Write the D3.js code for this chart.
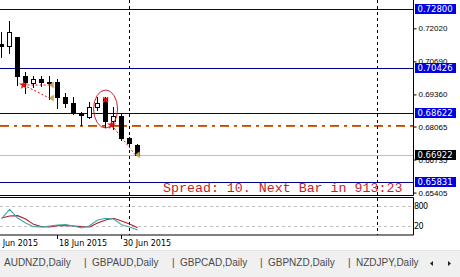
<!DOCTYPE html>
<html>
<head>
<meta charset="utf-8">
<script src="https://cdn.jsdelivr.net/npm/d3@7"></script>
<style>
  body { margin: 0; background: #fff; }
  svg { display: block; }
</style>
</head>
<body>
<div id="chart"></div>
<script>
// daily bars, 9 Jun .. 2 Jul 2015
var dates = ["9 Jun", "10 Jun", "11 Jun", "12 Jun", "15 Jun", "16 Jun", "17 Jun", "18 Jun", "19 Jun",
             "22 Jun", "23 Jun", "24 Jun", "25 Jun", "26 Jun", "29 Jun", "30 Jun", "1 Jul", "2 Jul"];
var open  = [0.71410, 0.71309, 0.71660, 0.70101, 0.69806, 0.69980, 0.69879, 0.69871, 0.69242,
             0.69025, 0.68598, 0.68437, 0.68840, 0.69162, 0.68288, 0.68489, 0.67591, 0.67321];
var high  = [0.71885, 0.72317, 0.71692, 0.70274, 0.70101, 0.70101, 0.70101, 0.69980, 0.69404,
             0.69242, 0.68650, 0.69065, 0.69267, 0.69254, 0.68852, 0.68570, 0.67643, 0.67361];
var low   = [0.70878, 0.71015, 0.69738, 0.69404, 0.69669, 0.69698, 0.69174, 0.68831, 0.68864,
             0.68590, 0.68126, 0.68396, 0.68731, 0.68058, 0.67965, 0.67522, 0.67321, 0.66900];
var close = [0.71329, 0.71885, 0.70101, 0.69871, 0.69968, 0.69847, 0.69859, 0.69254, 0.69025,
             0.68622, 0.68529, 0.68864, 0.69025, 0.68300, 0.68489, 0.67591, 0.67389, 0.66930];

// stochastic %K / %D
var stochMain   = [42, 70, 44, 29, 18, 17, 20, 23, 24, 20, 14, 21, 38, 43, 41, 24, 17, 8];
var stochSignal = [44, 50, 51, 41, 25, 18, 17, 21, 21, 20, 18, 17, 29, 38, 43, 35, 26, 15];
var stochLevels = [80, 20];

var priceLines = [0.72800, 0.70426, 0.68622, 0.65831];
var bidPrice = 0.66922;
var dashLevel = 0.68065;
var priceTicks = [0.72020, 0.70690, 0.69360, 0.68065, 0.66735, 0.65405];

var timeLabels = ["8 Jun 2015", "18 Jun 2015", "30 Jun 2015"];
var timeLabelBars = [-1, 7, 15];
var separatorBars = [16, 47];

// trade history: sell arrows, close arrows, links
var sellBars   = [2.75, 13.75];
var sellPrices = [0.69738, 0.68126];
var exitBars   = [5.96, 5.96, 16.7];
var exitPrices = [0.69738, 0.69214, 0.66930];
var tradeLinks = [[0, 0], [0, 1], [1, 2]];
var crossBar = 13, crossPrice = 0.69140;
var ellipseBars = [11.5, 14.5], ellipsePrices = [0.69537, 0.68006];

var spreadText = "Spread: 10. Next Bar in 913:23";
var tabs = ["AUDNZD,Daily", "GBPAUD,Daily", "GBPCAD,Daily", "GBPNZD,Daily", "NZDJPY,Daily"];

var W = 460, H = 277;
var plotRight = 413, mainBottom = 195.5, subTop = 197.5, subBottom = 235;

var svg = d3.select("#chart").append("svg")
    .attr("width", W).attr("height", H)
    .style("font-family", "'DejaVu Sans', sans-serif");

svg.append("rect").attr("width", W).attr("height", H).attr("fill", "#fff");

var x = d3.scaleLinear().domain([0, 17]).range([1.6, 137.6]);
var y = d3.scaleLinear().domain([0.65831, 0.72800]).range([182, 9]);
var ys = d3.scaleLinear().domain([20, 80]).range([226, 206]);

var px = function(i) { return Math.floor(x(i)) + 0.5; };
var py = function(p) { return Math.round(y(p)) + 0.5; };

svg.append("clipPath").attr("id", "mainClip")
  .append("rect").attr("x", 0).attr("y", 0).attr("width", plotRight).attr("height", mainBottom);
svg.append("clipPath").attr("id", "subClip")
  .append("rect").attr("x", 0).attr("y", subTop).attr("width", plotRight).attr("height", subBottom - subTop);

var main = svg.append("g").attr("clip-path", "url(#mainClip)");

// level lines
main.selectAll(".lvl").data(priceLines).enter().append("line")
    .attr("x1", 0).attr("x2", plotRight)
    .attr("y1", py).attr("y2", py)
    .attr("stroke", "#00008b").attr("stroke-width", 1);

main.append("line")
    .attr("x1", 0).attr("x2", plotRight)
    .attr("y1", py(bidPrice)).attr("y2", py(bidPrice))
    .attr("stroke", "#c0c0c0");

[["#2e8b2e", -2], ["#d2691e", -1]].forEach(function(s) {
  main.append("line")
      .attr("x1", 0).attr("x2", plotRight)
      .attr("y1", py(dashLevel) + s[1]).attr("y2", py(dashLevel) + s[1])
      .attr("stroke", s[0]).attr("stroke-dasharray", "9,5,3,5")
      .attr("shape-rendering", "crispEdges");
});

// period separators (both panels)
svg.selectAll(".sep").data(separatorBars).enter().append("line")
    .attr("x1", px).attr("x2", px)
    .attr("y1", 0).attr("y2", subBottom)
    .attr("stroke", "#000").attr("stroke-dasharray", "3,3");

// trade links (behind candles)
main.selectAll(".link").data(tradeLinks).enter().append("line")
    .attr("x1", function(d) { return x(sellBars[d[0]]); })
    .attr("y1", function(d) { return y(sellPrices[d[0]]); })
    .attr("x2", function(d) { return x(exitBars[d[1]]); })
    .attr("y2", function(d) { return y(exitPrices[d[1]]); })
    .attr("stroke", "#d01818").attr("stroke-dasharray", "2,2");

// candles
var bars = d3.range(dates.length);
var candle = main.selectAll(".candle").data(bars).enter().append("g");

candle.append("line")
    .attr("x1", px).attr("x2", px)
    .attr("y1", function(i) { return Math.round(y(high[i])); })
    .attr("y2", function(i) { return Math.round(y(low[i])) + 1; })
    .attr("stroke", "#000").attr("shape-rendering", "crispEdges");

candle.append("rect")
    .attr("x", function(i) { return Math.floor(x(i)) - 2 + (close[i] >= open[i] ? 0.5 : 0); })
    .attr("y", function(i) {
      return Math.round(y(Math.max(open[i], close[i]))) + (close[i] >= open[i] ? 0.5 : 0);
    })
    .attr("width", function(i) { return close[i] >= open[i] ? 4 : 5; })
    .attr("height", function(i) {
      var h = Math.round(y(Math.min(open[i], close[i]))) - Math.round(y(Math.max(open[i], close[i])));
      return close[i] >= open[i] ? Math.max(h, 1) : Math.max(h, 1) + 1;
    })
    .attr("fill", function(i) { return close[i] >= open[i] ? "#fff" : "#000"; })
    .attr("stroke", function(i) { return close[i] >= open[i] ? "#000" : "none"; })
    .attr("shape-rendering", "crispEdges");

// sell arrows
main.selectAll(".sell").data(sellBars).enter().append("path")
    .attr("transform", function(d, k) { return "translate(" + x(d) + "," + y(sellPrices[k]) + ")"; })
    .attr("d", d3.symbol().type(d3.symbolStar).size(26))
    .attr("fill", "#e01010");

// close arrows (left pointing)
main.selectAll(".exit").data(exitBars).enter().append("path")
    .attr("transform", function(d, k) { return "translate(" + x(d) + "," + y(exitPrices[k]) + ")"; })
    .attr("d", "M0,0L4.5,-3.5L4.5,3.5Z")
    .attr("fill", "#d0a448");

// red cross
main.append("path")
    .attr("transform", "translate(" + x(crossBar) + "," + y(crossPrice) + ")")
    .attr("d", "M-2.5,-2.5L2.5,2.5M-2.5,2.5L2.5,-2.5")
    .attr("stroke", "#e01010").attr("stroke-width", 1.6);

// ellipse drawn on chart
main.append("ellipse")
    .attr("cx", (x(ellipseBars[0]) + x(ellipseBars[1])) / 2)
    .attr("cy", (y(ellipsePrices[0]) + y(ellipsePrices[1])) / 2)
    .attr("rx", (x(ellipseBars[1]) - x(ellipseBars[0])) / 2)
    .attr("ry", (y(ellipsePrices[1]) - y(ellipsePrices[0])) / 2)
    .attr("fill", "none").attr("stroke", "#c8202c");

main.append("text")
    .attr("x", 163).attr("y", 192)
    .style("font-family", "'Liberation Mono', monospace")
    .style("font-size", "13.3px")
    .attr("fill", "#c51d2a")
    .text(spreadText);

// panel borders
svg.append("line").attr("x1", 0).attr("x2", plotRight + 0.5).attr("y1", mainBottom).attr("y2", mainBottom)
    .attr("stroke", "#000");
svg.append("line").attr("x1", plotRight + 0.5).attr("x2", plotRight + 0.5).attr("y1", 0).attr("y2", mainBottom)
    .attr("stroke", "#000");

// price axis
var yAxis = svg.append("g")
    .attr("transform", "translate(" + (plotRight + 0.5) + ",0)")
    .call(d3.axisRight(y).tickValues(priceTicks).tickSize(3).tickPadding(2)
          .tickFormat(d3.format(".5f")));
yAxis.select(".domain").remove();
yAxis.selectAll("text").style("font-size", "8px").attr("fill", "#000");
yAxis.selectAll("line").attr("stroke", "#000");

var boxes = priceLines.map(function(p) { return {p: p, c: "#0000e6"}; })
    .concat([{p: bidPrice, c: "#000"}]);
var box = svg.selectAll(".box").data(boxes).enter().append("g")
    .attr("transform", function(d) { return "translate(415," + (Math.round(y(d.p)) - 5) + ")"; });
box.append("rect").attr("width", 41).attr("height", 10).attr("fill", function(d) { return d.c; });
box.append("text").attr("x", 2.5).attr("y", 5).attr("dy", "0.34em")
    .style("font-size", "8.5px").attr("fill", "#fff")
    .text(function(d) { return d3.format(".5f")(d.p); });

// stochastic panel
var sub = svg.append("g").attr("clip-path", "url(#subClip)");
sub.selectAll(".slvl").data(stochLevels).enter().append("line")
    .attr("x1", 0).attr("x2", plotRight)
    .attr("y1", function(d) { return Math.round(ys(d)) + 0.5; })
    .attr("y2", function(d) { return Math.round(ys(d)) + 0.5; })
    .attr("stroke", "#c0c0c0").attr("stroke-dasharray", "3,3");

var stochLine = d3.line().x(function(d, i) { return x(i); }).y(function(d) { return ys(d); });
sub.append("path").datum(stochSignal).attr("d", stochLine)
    .attr("fill", "none").attr("stroke", "#b01e2a").attr("stroke-width", 1.1);
sub.append("path").datum(stochMain).attr("d", stochLine)
    .attr("fill", "none").attr("stroke", "#3aaaa8").attr("stroke-width", 1.1);

svg.append("path")
    .attr("d", "M0," + subTop + "H" + (plotRight + 0.5) + "V" + subBottom + "H0")
    .attr("fill", "none").attr("stroke", "#000");

svg.selectAll(".slab").data(stochLevels).enter().append("text")
    .attr("x", 414).attr("y", ys).attr("dy", "0.34em")
    .style("font-size", "8px").style("letter-spacing", "-0.6px").attr("fill", "#000")
    .text(function(d) { return d === 80 ? "800" : "20"; });

// time axis
var tg = svg.selectAll(".tl").data(timeLabelBars).enter().append("g")
    .attr("transform", function(d) { return "translate(" + px(d) + "," + subBottom + ")"; });
tg.append("line").attr("y1", 0).attr("y2", 4).attr("stroke", "#000");
tg.append("text").attr("x", 1.5).attr("y", 11)
    .style("font-size", "8px").attr("fill", "#000")
    .text(function(d, k) { return timeLabels[k]; });

// symbol tabs
svg.append("rect").attr("x", 0).attr("y", 251).attr("width", W).attr("height", H - 251).attr("fill", "#f0f0f0");
svg.append("line").attr("x1", 0).attr("x2", W).attr("y1", 250.5).attr("y2", 250.5).attr("stroke", "#e4e4e4");
var tab = svg.selectAll(".tab").data(tabs).enter().append("g")
    .attr("transform", function(d, i) { return "translate(" + (i * 88) + ",266)"; });
tab.append("text").attr("x", 4)
    .style("font-family", "'Liberation Sans', sans-serif").style("font-size", "10px")
    .attr("fill", "#4a4a4a").text(function(d) { return d; });
tab.filter(function(d, i) { return i < tabs.length - 1; }).append("text").attr("x", 84)
    .style("font-family", "'Liberation Sans', sans-serif").style("font-size", "10px")
    .attr("fill", "#4a4a4a").text("|");

svg.append("path").attr("d", "M430,263.5L433,261V266Z").attr("fill", "#222");
svg.append("path").attr("d", "M451,263.5L448,261V266Z").attr("fill", "#222");
</script>
</body>
</html>
